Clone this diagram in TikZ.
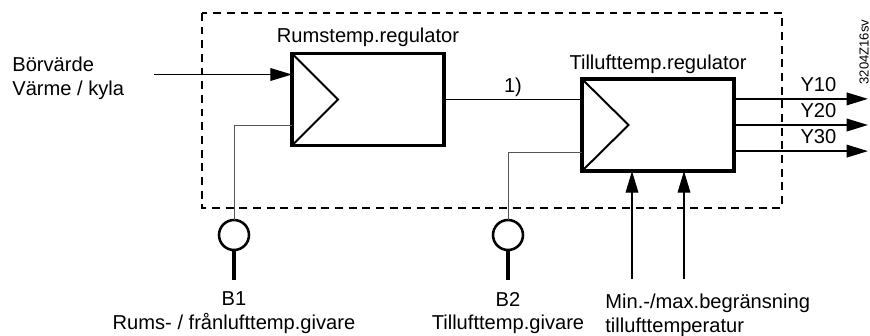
\documentclass[tikz,border=0pt]{standalone}
\usepackage{fontspec}
\setmainfont{Liberation Sans}
\usetikzlibrary{arrows.meta, positioning}
\definecolor{fbgray}{HTML}{555555}

\begin{document}
\begin{tikzpicture}[
    x=0.18mm, y=-0.18mm,
    >={Triangle[length=11pt, width=6.5pt]},
    font=\fontsize{10.3}{12}\selectfont,
    regbox/.style={
        draw, line width=1.7pt, inner sep=0pt, outer sep=0pt,
        minimum width=27.4mm, minimum height=16.6mm,
    },
    sensor/.style={
        draw, circle, line width=1.3pt, inner sep=0pt, outer sep=0pt,
        minimum size=5.4mm,
    },
    lbl/.style={inner sep=0pt, align=center},
    sig/.style={->, line width=0.6pt},
    fb/.style={fbgray, line width=0.5pt},
    stem/.style={line width=2pt},
    frame/.style={dash pattern=on 4pt off 3pt, line width=0.75pt},
]
\useasboundingbox (0,0) rectangle (870,335);

% Controller frame
\draw[frame] (202,13) rectangle (782,208);

% Two regulators
\node[regbox] (reg1) at (368,99.5) {};
\node[regbox] (reg2) at (658,125) {};
\draw[line width=1pt] (reg1.north west) -- ([xshift=8.3mm]reg1.west) -- (reg1.south west);
\draw[line width=1pt] (reg2.north west) -- ([xshift=8.4mm]reg2.west) -- (reg2.south west);
\node[lbl, above=3pt of reg1] (t1) {Rumstemp.regulator};
\node[lbl, above=2.5pt of reg2] (t2) {Tillufttemp.regulator};

% Setpoint input
\node[lbl, align=left, anchor=north west] (setlbl) at (12,57) {Börvärde\\Värme / kyla};
\coordinate (setp) at (154,74.5);
\draw[sig] (setp) -- (setp -| reg1.west);

% Cascade link
\draw[line width=1pt] (reg1.east) -- (reg1.east -| reg2.west)
    node[lbl, midway, above=1pt] (link) {1)};

% Sensors B1 and B2
\node[sensor] (sens1) at (234,235) {};
\draw[stem] (sens1.south) -- ++(0,30) coordinate (b1end);
\draw[fb] (sens1.north) |- ([yshift=-4.6mm]reg1.west);
\node[lbl, below=6pt of b1end] (b1lbl) {B1\\Rums- / frånlufttemp.givare};

\node[sensor] (sens2) at (508,235) {};
\draw[stem] (sens2.south) -- ++(0,30) coordinate (b2end);
\draw[fb] (sens2.north) |- ([yshift=-4.9mm]reg2.west);
\node[lbl, below=6pt of b2end] (b2lbl) {B2\\Tillufttemp.givare};

% Outputs
\coordinate (outend) at (868,0);
\foreach \dy/\name in {4.7mm/Y10, 0mm/Y20, -4.7mm/Y30}
    \draw[sig, line width=0.8pt] ([yshift=\dy]reg2.east) coordinate (o\name) -- (o\name -| outend)
        node[lbl, pos=.63, above=3.5pt] (l\name) {\name};

% Min/max limits
\coordinate (lim1) at (632,279);
\coordinate (lim2) at (684,279);
\draw[sig] (lim1) -- (lim1 |- reg2.south);
\draw[sig] (lim2) -- (lim2 |- reg2.south);
\node[lbl, align=left, anchor=north west] (limlbl) at (605,294) {Min.-/max.begränsning\\tillufttemperatur};

% Drawing number
\node[inner sep=0pt, rotate=90, font=\fontsize{6.7}{8}\selectfont] (code) at (864,52) {3204Z16sv};

\end{tikzpicture}
\end{document}
